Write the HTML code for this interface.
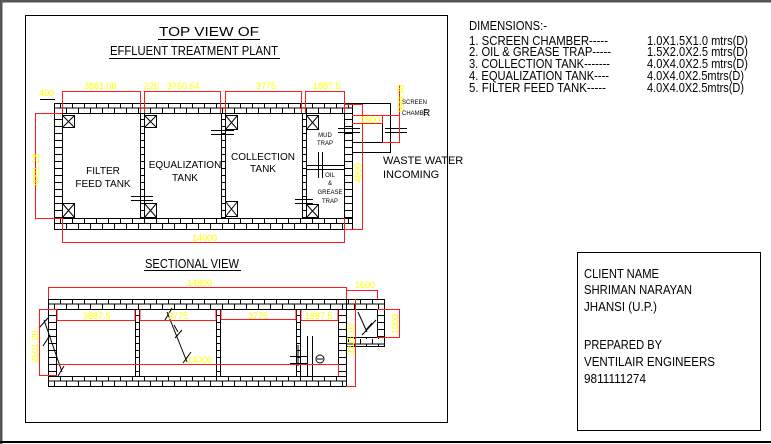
<!DOCTYPE html>
<html><head><meta charset="utf-8"><style>
html,body{margin:0;padding:0;background:#fff;}
svg{display:block;}
text{font-family:"Liberation Sans",sans-serif;}
.y{fill:#ffff00;font-size:9px;}
</style></head><body>
<svg width="771" height="444" viewBox="0 0 771 444" xmlns="http://www.w3.org/2000/svg">
<defs>
<pattern id="h1" x="0" y="103" width="12" height="10" patternUnits="userSpaceOnUse"><path d="M0 5H12M0.5 0V5M6.5 5V10" stroke="#000" stroke-width="1" fill="none"/></pattern>
<pattern id="h2" x="0" y="218" width="12" height="11" patternUnits="userSpaceOnUse"><path d="M0 5.5H12M0.5 0V5.5M6.5 5.5V11" stroke="#000" stroke-width="1" fill="none"/></pattern>
<pattern id="h3" x="0" y="299" width="12" height="10" patternUnits="userSpaceOnUse"><path d="M0 5H12M0.5 0V5M6.5 5V10" stroke="#000" stroke-width="1" fill="none"/></pattern>
<pattern id="h4" x="0" y="376" width="12" height="10" patternUnits="userSpaceOnUse"><path d="M0 5H12M0.5 0V5M6.5 5V10" stroke="#000" stroke-width="1" fill="none"/></pattern>
<pattern id="v" x="0" y="0" width="10" height="7" patternUnits="userSpaceOnUse"><path d="M0 0.5H10" stroke="#000" stroke-width="1"/></pattern>
</defs>
<line x1="0" y1="1" x2="771" y2="1" stroke="#555" stroke-width="3"/>
<line x1="1" y1="0" x2="1" y2="444" stroke="#555" stroke-width="3"/>
<line x1="0" y1="442" x2="771" y2="442" stroke="#000" stroke-width="2"/>
<rect x="25.5" y="15.5" width="422" height="407" fill="none" stroke="#000" stroke-width="1"/>
<rect x="577.5" y="252.5" width="183" height="178" fill="none" stroke="#000" stroke-width="1"/>

<text x="209" y="36" font-size="13" text-anchor="middle" textLength="100" lengthAdjust="spacingAndGlyphs">TOP VIEW OF</text>
<line x1="158" y1="39.5" x2="260" y2="39.5" stroke="#000"/>
<text x="194" y="55" font-size="13" text-anchor="middle" textLength="168" lengthAdjust="spacingAndGlyphs">EFFLUENT TREATMENT PLANT</text>
<line x1="109" y1="58.5" x2="280" y2="58.5" stroke="#000"/>
<text x="192" y="268" font-size="13" text-anchor="middle" textLength="94" lengthAdjust="spacingAndGlyphs">SECTIONAL VIEW</text>
<line x1="144" y1="270.5" x2="241" y2="270.5" stroke="#000"/>

<g font-size="13">
<text x="469" y="30" textLength="78" lengthAdjust="spacingAndGlyphs">DIMENSIONS:-</text>
<text x="469" y="45" textLength="139" lengthAdjust="spacingAndGlyphs">1. SCREEN CHAMBER-----</text>
<text x="469" y="56" textLength="142" lengthAdjust="spacingAndGlyphs">2. OIL &amp; GREASE TRAP-----</text>
<text x="469" y="68" textLength="141" lengthAdjust="spacingAndGlyphs">3. COLLECTION TANK-------</text>
<text x="469" y="80" textLength="140" lengthAdjust="spacingAndGlyphs">4. EQUALIZATION TANK----</text>
<text x="469" y="92" textLength="137" lengthAdjust="spacingAndGlyphs">5. FILTER FEED TANK-----</text>
<text x="647" y="45" textLength="101" lengthAdjust="spacingAndGlyphs">1.0X1.5X1.0 mtrs(D)</text>
<text x="647" y="56" textLength="101" lengthAdjust="spacingAndGlyphs">1.5X2.0X2.5 mtrs(D)</text>
<text x="647" y="68" textLength="101" lengthAdjust="spacingAndGlyphs">4.0X4.0X2.5 mtrs(D)</text>
<text x="647" y="80" textLength="97" lengthAdjust="spacingAndGlyphs">4.0X4.0X2.5mtrs(D)</text>
<text x="647" y="92" textLength="97" lengthAdjust="spacingAndGlyphs">4.0X4.0X2.5mtrs(D)</text>
</g>
<g font-size="13">
<text x="584" y="278" textLength="75" lengthAdjust="spacingAndGlyphs">CLIENT NAME</text>
<text x="584" y="294" textLength="108" lengthAdjust="spacingAndGlyphs">SHRIMAN NARAYAN</text>
<text x="584" y="311" textLength="73" lengthAdjust="spacingAndGlyphs">JHANSI (U.P.)</text>
<text x="584" y="349" textLength="78" lengthAdjust="spacingAndGlyphs">PREPARED BY</text>
<text x="584" y="366" textLength="131" lengthAdjust="spacingAndGlyphs">VENTILAIR ENGINEERS</text>
<text x="584" y="383" textLength="62" lengthAdjust="spacingAndGlyphs">9811111274</text>
</g>

<g stroke="#000" stroke-width="1">
<rect x="54.5" y="103.5" width="298" height="10" fill="url(#h1)"/>
<rect x="54.5" y="218.5" width="298" height="11" fill="url(#h2)"/>
<rect x="54.5" y="113.5" width="8" height="105" fill="url(#v)"/>
<rect x="344.5" y="113.5" width="8" height="105" fill="url(#v)"/>
<rect x="140.5" y="113.5" width="4" height="105" fill="url(#v)"/>
<rect x="221.5" y="113.5" width="4" height="105" fill="url(#v)"/>
<rect x="302.5" y="113.5" width="4" height="105" fill="url(#v)"/>
<line x1="306" y1="165.5" x2="344" y2="165.5"/>
<line x1="306" y1="169.5" x2="344" y2="169.5"/>
<g fill="none">
<path d="M62.5 115.5h12v12h-12zM62.5 115.5l12 12M74.5 115.5l-12 12"/>
<path d="M62.5 203.5h12v14h-12zM62.5 203.5l12 14M74.5 203.5l-12 14"/>
<path d="M144.5 115.5h12v12h-12zM144.5 115.5l12 12M156.5 115.5l-12 12"/>
<path d="M144.5 203.5h12v14h-12zM144.5 203.5l12 14M156.5 203.5l-12 14"/>
<path d="M225.5 115.5h12v14h-12zM225.5 115.5l12 14M237.5 115.5l-12 14"/>
<path d="M225.5 201.5h12v15h-12zM225.5 201.5l12 15M237.5 201.5l-12 15"/>
<path d="M306.5 115.5h12v14h-12zM306.5 115.5l12 14M318.5 115.5l-12 14"/>
<path d="M306.5 204.5h12v13h-12zM306.5 204.5l12 13M318.5 204.5l-12 13"/>
</g>
<path d="M131 196.5h22M131 200.5h22M211 130.5h23M211 134.5h23M295 199.5h18M295 203.5h18M338 128.5h22M338 132.5h22M385 128.5h22M385 132.5h22M318.5 152v26M322.5 152v26"/>
<path d="M352.5 103.5H390.5V152.5H352.5M352 142.5H382.5V115" fill="none"/>
</g>
<g stroke="#ff1a1a" stroke-width="1" fill="none">
<path d="M62.5 113V91.5H140.5V113"/>
<path d="M144.5 113V91.5H220.5V113"/>
<path d="M225.5 113V91.5H301.5V113"/>
<path d="M305.5 113V91.5H344.5V113"/>
<path d="M62.5 218V242.5H344.5V218"/>
<path d="M62 113.5H35.5V218.5H62"/>
<path d="M344 104.5H362.5V229.5H344"/>
<path d="M352 115.5H382.5V123.5H352"/>
<path d="M382 115.5H399.5V142.5H382M399.5 115V85"/>
</g>
<line x1="40" y1="99.5" x2="55" y2="99.5" stroke="#000"/>
<g class="y">
<text x="39" y="96">400</text>
<text x="84" y="89">3881.68</text>
<text x="144" y="89">225</text>
<text x="167" y="89">3760.64</text>
<text x="256" y="89">3775</text>
<text x="313" y="89">1887.5</text>
<text x="192" y="241">14000</text>
<text transform="translate(39,186) rotate(-90)">4001.28</text>
<text transform="translate(361,183) rotate(-90)">4800</text>
<text transform="translate(404,112) rotate(-90)">999.38</text>
<text x="360" y="123">1500</text>
</g>
<g font-size="10" text-anchor="middle">
<text x="103" y="174">FILTER</text>
<text x="103" y="187">FEED TANK</text>
<text x="185" y="168">EQUALIZATION</text>
<text x="185" y="181">TANK</text>
<text x="263" y="160">COLLECTION</text>
<text x="263" y="172">TANK</text>
</g>
<g font-size="6" text-anchor="middle">
<text x="325" y="137">MUD</text>
<text x="325" y="145">TRAP</text>
<text x="330" y="177">OIL</text>
<text x="330" y="185">&amp;</text>
<text x="330" y="194">GREASE</text>
<text x="330" y="203">TRAP</text>
<text x="402" y="104" text-anchor="start">SCREEN</text>
<text x="402" y="115" text-anchor="start">CHAMBE</text>
</g>
<text x="423" y="116" font-size="10">R</text>
<text x="383" y="164" font-size="11">WASTE WATER</text>
<text x="383" y="178" font-size="11">INCOMING</text>

<g stroke="#000" stroke-width="1">
<rect x="48.5" y="299.5" width="298" height="10" fill="url(#h3)"/>
<rect x="48.5" y="376.5" width="298" height="10" fill="url(#h4)"/>
<rect x="48.5" y="309.5" width="8" height="67" fill="url(#v)"/>
<rect x="338.5" y="309.5" width="8" height="67" fill="url(#v)"/>
<rect x="135.5" y="309.5" width="4" height="67" fill="url(#v)"/>
<rect x="216.5" y="309.5" width="4" height="67" fill="url(#v)"/>
<rect x="296.5" y="309.5" width="4" height="67" fill="url(#v)"/>
<rect x="346.5" y="299.5" width="38" height="10" fill="url(#h3)"/>
<rect x="346.5" y="337.5" width="38" height="9" fill="url(#h3)"/>
<rect x="377.5" y="309.5" width="7" height="28" fill="url(#v)"/>
<g fill="none">
<path d="M358 312L367 332M362 335L376 320M366 330L372 323"/>
<path d="M39 328L48 318M44 320L62 372M43 346L50 335M58 376L64 366"/>
<path d="M165 320L172 308M167 312L187 362M174 325L178 332M175 338L182 330M186 359L191 352M183 363L188 356"/>
<path d="M290 356.5H307M290 363.5H307M298 345V366M307.5 336V376M312.5 336V376"/>
<circle cx="320" cy="359" r="4"/>
<path d="M317 359H323"/>
</g>
</g>
<g stroke="#ff1a1a" stroke-width="1" fill="none">
<path d="M48.5 299V287.5H346.5V299"/>
<path d="M346.5 299V290.5H377.5V299"/>
<path d="M57 309.5V320.5H135M140 309.5V320.5H216M221 309.5V319.5H296M301 309.5V320.5H338M135 309.5V320.5M216 309.5V319.5M296 309.5V320.5M338 309.5V320.5"/>
<path d="M57 309.5H39.5V375.5H57"/>
<path d="M57 364.5H338.5V376"/>
<path d="M346 386.5H355.5V299"/>
<path d="M377 309.5H399.5V337.5H377"/>
</g>
<g class="y">
<text x="187" y="286">14800</text>
<text x="355" y="288">1500</text>
<text x="83" y="319">3887.5</text>
<text x="168" y="319">3775</text>
<text x="248" y="319">3775</text>
<text x="305" y="319">1887.5</text>
<text x="187" y="363">14000</text>
<text transform="translate(38,363) rotate(-90)">2501.28</text>
<text transform="translate(354,355) rotate(-90)">3215.07</text>
<text transform="translate(398,334) rotate(-90)">1000</text>
</g>
</svg>
</body></html>
